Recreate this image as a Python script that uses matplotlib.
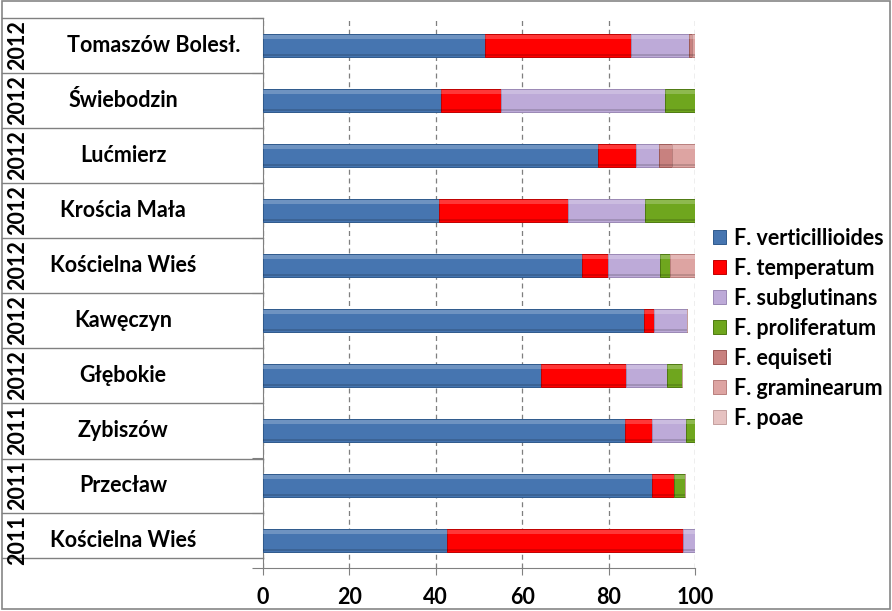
import matplotlib
matplotlib.use("Agg")
import matplotlib.pyplot as plt
import matplotlib.transforms as mtransforms
from matplotlib.lines import Line2D
from matplotlib.patches import Rectangle, Patch
import numpy as np

# Dane (od góry wykresu do dołu)
locations = ["Tomaszów Bolesł.", "Świebodzin", "Lućmierz", "Krościa Mała",
             "Kościelna Wieś", "Kawęczyn", "Głębokie", "Zybiszów",
             "Przecław", "Kościelna Wieś"]
years = ["2012", "2012", "2012", "2012", "2012", "2012", "2012",
         "2011", "2011", "2011"]

species = ["F. verticillioides", "F. temperatum", "F. subglutinans",
           "F. proliferatum", "F. equiseti", "F. graminearum", "F. poae"]

verticillioides = [51.5, 41.1, 77.6, 40.7, 73.8, 88.3, 64.4, 83.8, 90.1, 42.7]
temperatum = [33.8, 14.1, 8.7, 29.8, 6.1, 2.3, 19.6, 6.2, 5.1, 54.5]
subglutinans = [13.2, 37.9, 5.4, 17.9, 12.0, 7.5, 9.6, 7.9, 0.0, 2.8]
proliferatum = [0.0, 6.9, 0.0, 11.6, 2.3, 0.0, 3.5, 2.1, 2.5, 0.0]
equiseti = [0.7, 0.0, 2.9, 0.0, 0.0, 0.0, 0.0, 0.0, 0.0, 0.0]
graminearum = [0.8, 0.0, 5.4, 0.0, 5.8, 0.0, 0.0, 0.0, 0.0, 0.0]
poae = [0.0, 0.0, 0.0, 0.0, 0.0, 0.0, 0.0, 0.0, 0.0, 0.0]

x_ticks = [0, 20, 40, 60, 80, 100]

colors = ["#4675B0", "#FF0000", "#BDAAD8", "#6FA61E", "#C8817F", "#DDA4A2", "#E6C2C1"]
edge_colors = ["#2F5A8C", "#C00000", "#9A88B5", "#4E7A12", "#9E5A58", "#B97F7D", "#C49F9E"]

plt.rcParams['font.family'] = ['Lato', 'DejaVu Sans']
W, H = 892, 611
FS = 15.5

fig = plt.figure(figsize=(W / 100, H / 100), dpi=100)
ax = fig.add_axes([263 / W, (H - 568) / H, (695 - 263) / W, (568 - 18) / H])

series = [verticillioides, temperatum, subglutinans, proliferatum, equiseti, graminearum, poae]
n = len(locations)
ypos = np.arange(n)[::-1]
bar_h = 0.42
left = np.zeros(n)
for vals, c, ec in zip(series, colors, edge_colors):
    vals = np.array(vals)
    ax.barh(ypos, vals, left=left, height=bar_h, color=c, edgecolor=ec, linewidth=0.7, zorder=3)
    # efekt wypukłości: jasny pasek u góry, cień u dołu
    ax.barh(ypos + bar_h * 0.36, vals, left=left, height=bar_h * 0.16, color="white",
            alpha=0.22, linewidth=0, zorder=4)
    ax.barh(ypos - bar_h * 0.40, vals, left=left, height=bar_h * 0.10, color="black",
            alpha=0.15, linewidth=0, zorder=4)
    left += vals

ax.set_xlim(0, 100)
ax.set_ylim(-0.5, n - 0.5)
ax.set_xticks(x_ticks)
ax.set_xticklabels([str(t) for t in x_ticks], fontsize=FS, fontweight="bold")
ax.set_yticks(np.arange(n + 1) - 0.5)
ax.set_yticklabels([])
ax.tick_params(axis="y", direction="out", length=8, color="#808080")
ax.tick_params(axis="x", direction="out", length=5, color="#808080", pad=9)
ax.xaxis.grid(True, linestyle=(0, (4, 3)), color="#7F7F7F", linewidth=0.9)
ax.set_axisbelow(True)
for s in ["top", "right"]:
    ax.spines[s].set_visible(False)
for s in ["left", "bottom"]:
    ax.spines[s].set_color("#808080")

# tabela z nazwami miejscowości
blend = mtransforms.blended_transform_factory(fig.transFigure, ax.transData)
for i, (loc, yr) in enumerate(zip(locations, years)):
    y = ypos[i]
    cx = 154 if i == 0 else 123
    fig.text(cx / W, y, loc, transform=blend, ha="center", va="center",
             fontsize=FS, fontweight="bold")
    fig.text(18 / W, y, yr, transform=blend, ha="center", va="center",
             fontsize=FS, fontweight="bold", rotation=90)

line_ys = [18, 73, 128, 183, 238, 293, 348, 403, 459, 513, 558]
for yy in line_ys:
    fig.add_artist(Line2D([2 / W, 263 / W], [1 - yy / H, 1 - yy / H],
                          color="#808080", linewidth=1, transform=fig.transFigure))

# ramka
fig.add_artist(Rectangle((2 / W, 1 - 609 / H), 888 / W, 608 / H, fill=False,
                         edgecolor="#868686", linewidth=1.2, transform=fig.transFigure))

handles = [Patch(facecolor=c, edgecolor=ec, linewidth=0.7) for c, ec in zip(colors, edge_colors)]
fig.legend(handles, species, loc="upper left", bbox_to_anchor=(704 / W, 1 - 219 / H),
           frameon=False, prop={"weight": "bold", "size": FS},
           handlelength=0.6, handleheight=0.6, handletextpad=0.4, labelspacing=0.42,
           borderaxespad=0)

fig.savefig("out.png", dpi=100)
